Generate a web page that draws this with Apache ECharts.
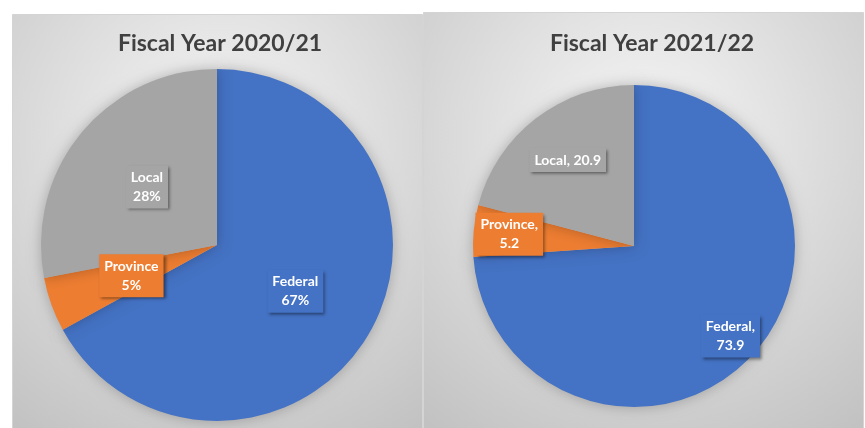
<!DOCTYPE html>
<html>
<head>
<meta charset="utf-8">
<script src="https://cdn.jsdelivr.net/npm/echarts@6/dist/echarts.min.js"></script>
<style>
html,body{margin:0;padding:0;background:#fff;}
#c{width:865px;height:428px;}
</style>
</head>
<body>
<div id="c"></div>
<script>
const categories = ['Federal', 'Province', 'Local'];
const values2021 = [67, 5, 28];
const values2122 = [73.9, 5.2, 20.9];
const titles = ['Fiscal Year 2020/21', 'Fiscal Year 2021/22'];
const colors = ['#4472C4', '#ED7D31', '#A5A5A5'];

const chart = echarts.init(document.getElementById('c'));
const FONT = 'Lato, "Open Sans", sans-serif';
const rightCenter = [634, 246];
const rightLabelFactor = [0.79, 0.75, 0.65];

function bg(x, y, w, h) {
  return {
    type: 'rect', z: -10, silent: true,
    shape: { x: x, y: y, width: w, height: h },
    style: {
      fill: new echarts.graphic.RadialGradient(0.5, 0.3, 0.85, [
        { offset: 0, color: '#f6f6f6' },
        { offset: 1, color: '#c2c2c2' }
      ]),
      stroke: '#d4d4d4', lineWidth: 1
    }
  };
}

function mkData(vals) {
  return categories.map((c, i) => ({
    name: c, value: vals[i],
    itemStyle: { color: colors[i] },
    label: { backgroundColor: colors[i] }
  }));
}

const labelBase = {
  position: 'inside',
  color: '#ffffff',
  fontFamily: FONT,
  fontWeight: 'bold',
  fontSize: 14,
  lineHeight: 19,
  padding: [3, 5, 2, 5],
  shadowColor: 'rgba(0,0,0,0.45)',
  shadowBlur: 3,
  shadowOffsetX: 2,
  shadowOffsetY: 2
};

const titleStyle = { fontFamily: FONT, fontSize: 23, fontWeight: 'bold', color: '#404040' };

chart.setOption({
  animation: false,
  graphic: [bg(12.5, 14.5, 410, 420), bg(423.5, 12.5, 440, 420)],
  title: [
    { text: titles[0], left: 215, top: 27, textAlign: 'center', textStyle: titleStyle },
    { text: titles[1], left: 647, top: 27, textAlign: 'center', textStyle: titleStyle }
  ],
  series: [
    {
      type: 'pie', center: [217, 245], radius: 176, startAngle: 90, clockwise: true,
      itemStyle: { shadowBlur: 14, shadowColor: 'rgba(0,0,0,0.25)' },
      label: Object.assign({}, labelBase, { formatter: '{b}\n{d}%' }),
      labelLine: { show: false },
      emphasis: { disabled: true },
      data: mkData(values2021)
    },
    {
      type: 'pie', center: rightCenter, radius: 161, startAngle: 90, clockwise: true,
      itemStyle: { shadowBlur: 14, shadowColor: 'rgba(0,0,0,0.25)' },
      label: Object.assign({}, labelBase, {
        formatter: function (p) {
          return p.name === 'Local' ? p.name + ', ' + p.value : p.name + ',\n' + p.value;
        }
      }),
      labelLine: { show: false },
      emphasis: { disabled: true },
      labelLayout: function (p) {
        const r = p.labelRect;
        const cx = r.x + r.width / 2, cy = r.y + r.height / 2;
        const f = rightLabelFactor[p.dataIndex] / 0.5;
        return { x: rightCenter[0] + (cx - rightCenter[0]) * f, y: rightCenter[1] + (cy - rightCenter[1]) * f };
      },
      data: mkData(values2122)
    }
  ]
});
</script>
</body>
</html>
